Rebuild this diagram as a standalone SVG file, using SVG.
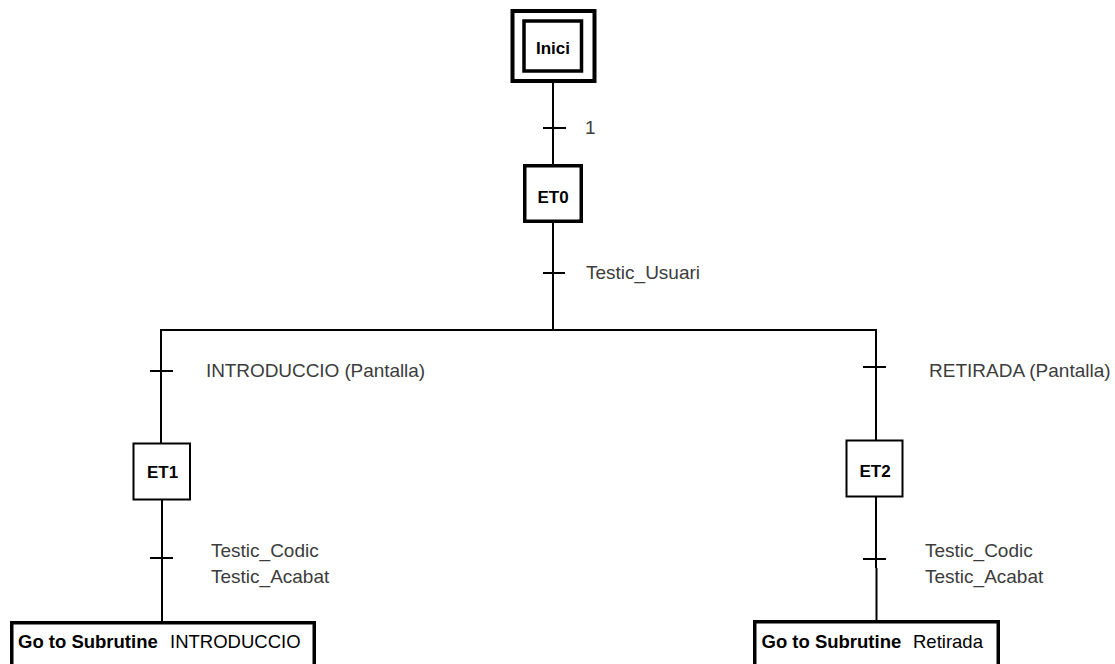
<svg xmlns="http://www.w3.org/2000/svg" width="1115" height="664" viewBox="0 0 1115 664">
  <style>
    .bg { fill: #ffffff; }
    .box { fill: #ffffff; stroke: #000000; }
    .thick { stroke-width: 3.5; }
    .thin { stroke-width: 2; }
    .wire { stroke: #000000; stroke-width: 2; fill: none; }
    .tick { stroke: #000000; stroke-width: 2; }
    .name { font-family: "Liberation Sans", Arial, sans-serif; font-weight: bold; font-size: 17px; fill: #000000; text-anchor: middle; }
    .cond { font-family: "Liberation Sans", Arial, sans-serif; font-size: 19px; fill: #3c3c3c; }
    .act { font-family: "Liberation Sans", Arial, sans-serif; font-size: 18.5px; fill: #000000; }
    .act .key { font-weight: bold; }
  </style>
  <rect class="bg" x="0" y="0" width="1115" height="664"/>

  <!-- links and transitions -->
  <g id="connectors">
    <line class="wire" x1="553" y1="83" x2="553" y2="164"/>
    <line class="tick" x1="543" y1="128" x2="566" y2="128"/>
    <line class="wire" x1="553" y1="223" x2="553" y2="330"/>
    <line class="tick" x1="543" y1="273" x2="565" y2="273"/>
    <polyline class="wire" stroke-width="2.5" points="161,443 161,330 876,330 876,440"/>
    <line class="tick" x1="150" y1="371" x2="173" y2="371"/>
    <line class="tick" x1="863" y1="367" x2="886" y2="367"/>
    <line class="wire" x1="162" y1="500" x2="162" y2="621"/>
    <line class="tick" x1="150" y1="558" x2="173" y2="558"/>
    <line class="wire" stroke-width="3" x1="876" y1="497" x2="876" y2="568"/>
    <line class="wire" x1="876.5" y1="568" x2="876.5" y2="620"/>
    <line class="tick" x1="863" y1="559" x2="886" y2="559"/>
  </g>

  <!-- transition conditions -->
  <g id="conditions">
    <text class="cond" x="585" y="134">1</text>
    <text class="cond" x="586" y="279">Testic_Usuari</text>
    <text class="cond" x="206" y="377" textLength="219">INTRODUCCIO (Pantalla)</text>
    <text class="cond" x="929" y="377">RETIRADA (Pantalla)</text>
    <text class="cond" x="211" y="557">Testic_Codic</text>
    <text class="cond" x="211" y="583">Testic_Acabat</text>
    <text class="cond" x="925" y="557">Testic_Codic</text>
    <text class="cond" x="925" y="583">Testic_Acabat</text>
  </g>

  <!-- initial step -->
  <g id="inici">
    <rect class="box" stroke-width="4" x="512.5" y="11" width="82" height="70"/>
    <rect class="box" stroke-width="3.5" x="524" y="21" width="57.5" height="50"/>
    <text class="name" x="553" y="54">Inici</text>
  </g>

  <g id="et0">
    <rect class="box thick" x="524.75" y="165.75" width="56.5" height="55.5"/>
    <text class="name" x="553" y="203">ET0</text>
  </g>

  <g id="et1">
    <rect class="box thin" x="133.5" y="443.5" width="56.5" height="56"/>
    <text class="name" x="162.5" y="478">ET1</text>
  </g>

  <g id="et2">
    <rect class="box thin" x="846.5" y="440.5" width="56" height="56"/>
    <text class="name" x="875" y="477">ET2</text>
  </g>

  <g id="sub-introduccio">
    <rect class="box thick" x="11.75" y="622.75" width="302.5" height="60"/>
    <text class="act" x="18" y="648"><tspan class="key">Go to Subrutine</tspan><tspan x="170">INTRODUCCIO</tspan></text>
  </g>

  <g id="sub-retirada">
    <rect class="box thick" x="754.75" y="621.75" width="243.5" height="60"/>
    <text class="act" x="761.5" y="648"><tspan class="key">Go to Subrutine</tspan><tspan x="913">Retirada</tspan></text>
  </g>
</svg>
